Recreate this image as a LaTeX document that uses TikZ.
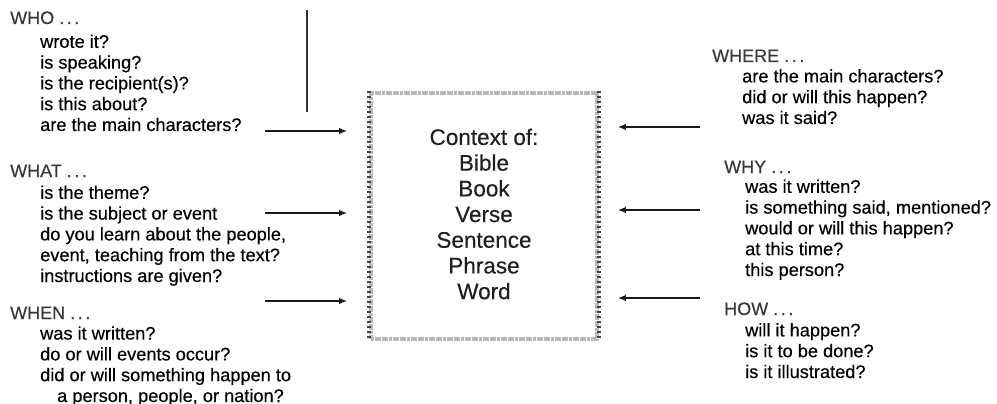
\documentclass[tikz,border=0pt]{standalone}
\usepackage{fontspec}
\setmainfont{Liberation Sans}
\newfontfamily\scanfont[FakeBold=0.35]{Liberation Sans}
\usetikzlibrary{positioning,arrows.meta}

\newcommand{\hdots}{\ .\hspace{2.6pt}.\hspace{2.6pt}.}

\tikzset{
  head/.style={anchor=base west, inner sep=0pt, text=black!78,
    font=\scanfont\fontsize{18}{20.8}\selectfont},
  % lists are placed at the baseline of their last line
  qlist/.style={anchor=base west, inner sep=0pt, align=left, text=black,
    font=\scanfont\fontsize{18.2}{20.8}\selectfont},
  arr/.style={-{Latex[length=8pt,width=6.5pt]}, line width=1.5pt, black!90},
  ctxbox/.style={draw=gray!55, line width=3.6pt, dash pattern=on 3pt off 0.6pt,
    minimum width=226pt, minimum height=246pt, inner sep=0pt},
  ctxside/.style={draw=black!75, line width=4pt, dash pattern=on 2pt off 3pt},
  ctxtext/.style={align=center, inner sep=0pt, text=black!88,
    font=\scanfont\fontsize{22.5}{25.7}\selectfont}
}

\begin{document}
\begin{tikzpicture}[x=1pt,y=-1pt]
  \useasboundingbox (0,0) rectangle (997,404);
  % centre box
  \node[ctxbox] (ctx) at (484,216) {};
  \draw[ctxside] (ctx.north west) -- (ctx.south west);
  \draw[ctxside] (ctx.north east) -- (ctx.south east);
  \node[ctxtext] (ctxt) at (484,214)
    {Context of:\\Bible\\Book\\Verse\\Sentence\\Phrase\\Word};
  % left column
  \node[head] (who) at (10,24) {WHO\hdots};
  \node[qlist] (whoq) at (40,131) {wrote it?\\is speaking?\\is the recipient(s)?\\is this about?\\are the main characters?};
  \node[head] (what) at (10,177) {WHAT\hdots};
  \node[qlist] (whatq) at (40,282) {is the theme?\\is the subject or event\\do you learn about the people,\\event, teaching from the text?\\instructions are given?};
  \node[head] (when) at (10,319) {WHEN\hdots};
  \node[qlist] (whenq) at (40,402) {was it written?\\do or will events occur?\\did or will something happen to\\\hspace*{17pt}a person, people, or nation?};
  % right column
  \node[head] (where) at (712,62) {WHERE\hdots};
  \node[qlist] (whereq) at (742,124) {are the main characters?\\did or will this happen?\\was it said?};
  \node[head] (why) at (724,173) {WHY\hdots};
  \node[qlist] (whyq) at (745,276) {was it written?\\is something said, mentioned?\\would or will this happen?\\at this time?\\this person?};
  \node[head] (how) at (724,315) {HOW\hdots};
  \node[qlist] (howq) at (745,378) {will it happen?\\is it to be done?\\is it illustrated?};
  % arrows into the box
  \coordinate (lw1) at (265,131);
  \coordinate (lw2) at (265,213);
  \coordinate (lw3) at (265,301);
  \coordinate (rw1) at (700,127);
  \coordinate (rw2) at (700,210);
  \coordinate (rw3) at (700,298);
  \foreach \c in {lw1,lw2,lw3}
    \draw[arr, shorten >=22pt] (\c) -- (\c -| ctx.west);
  \foreach \c in {rw1,rw2,rw3}
    \draw[arr, shorten >=19pt] (\c) -- (\c -| ctx.east);
  % stray rule
  \coordinate (vt) at (307,10);
  \coordinate (vb) at (307,112);
  \draw[line width=1.1pt, black!80] (vt) -- (vb);
\end{tikzpicture}
\end{document}
